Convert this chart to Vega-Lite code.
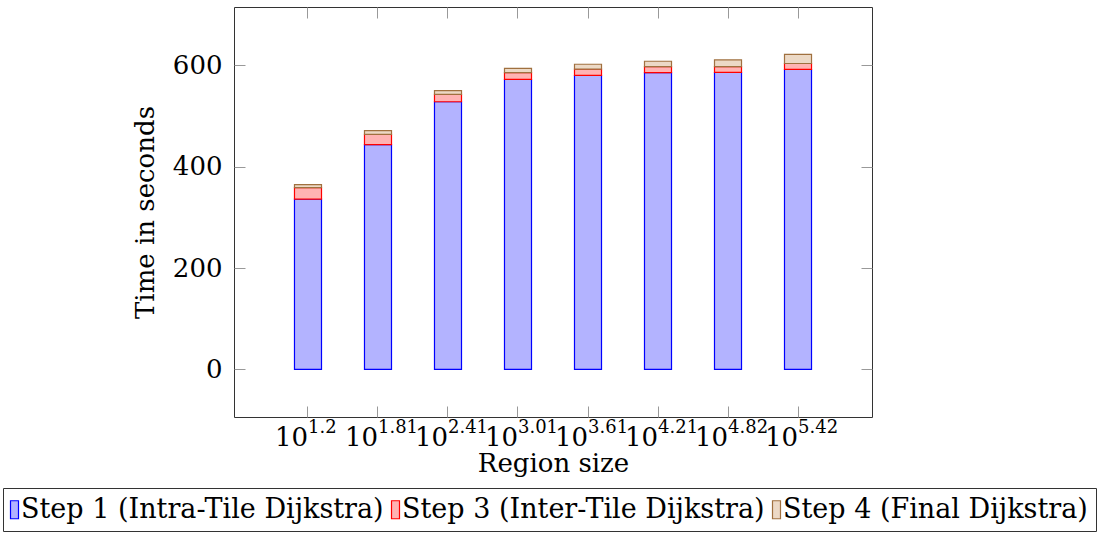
{
  "$schema": "https://vega.github.io/schema/vega-lite/v6.json",
  "width": 638,
  "height": 410,
  "autosize": {"type": "none"},
  "padding": {"left": 234, "top": 7, "right": 225, "bottom": 127},
  "background": "white",
  "config": {
    "view": {"stroke": "#333", "strokeWidth": 1},
    "font": "DejaVu Serif",
    "axis": {"labelFont": "DejaVu Serif", "titleFont": "DejaVu Serif", "labelColor": "black", "titleColor": "black", "titleFontWeight": "normal", "grid": false}
  },
  "data": {
    "values": [
      {"exp": "1.2", "step": "Step 1 (Intra-Tile Dijkstra)", "value": 336},
      {"exp": "1.2", "step": "Step 3 (Inter-Tile Dijkstra)", "value": 22.5},
      {"exp": "1.2", "step": "Step 4 (Final Dijkstra)", "value": 6},
      {"exp": "1.81", "step": "Step 1 (Intra-Tile Dijkstra)", "value": 443.5},
      {"exp": "1.81", "step": "Step 3 (Inter-Tile Dijkstra)", "value": 20.3},
      {"exp": "1.81", "step": "Step 4 (Final Dijkstra)", "value": 7.3},
      {"exp": "2.41", "step": "Step 1 (Intra-Tile Dijkstra)", "value": 528},
      {"exp": "2.41", "step": "Step 3 (Inter-Tile Dijkstra)", "value": 14.5},
      {"exp": "2.41", "step": "Step 4 (Final Dijkstra)", "value": 7.5},
      {"exp": "3.01", "step": "Step 1 (Intra-Tile Dijkstra)", "value": 572},
      {"exp": "3.01", "step": "Step 3 (Inter-Tile Dijkstra)", "value": 13.5},
      {"exp": "3.01", "step": "Step 4 (Final Dijkstra)", "value": 8.5},
      {"exp": "3.61", "step": "Step 1 (Intra-Tile Dijkstra)", "value": 580},
      {"exp": "3.61", "step": "Step 3 (Inter-Tile Dijkstra)", "value": 12.5},
      {"exp": "3.61", "step": "Step 4 (Final Dijkstra)", "value": 9.5},
      {"exp": "4.21", "step": "Step 1 (Intra-Tile Dijkstra)", "value": 585.5},
      {"exp": "4.21", "step": "Step 3 (Inter-Tile Dijkstra)", "value": 12},
      {"exp": "4.21", "step": "Step 4 (Final Dijkstra)", "value": 10.5},
      {"exp": "4.82", "step": "Step 1 (Intra-Tile Dijkstra)", "value": 586},
      {"exp": "4.82", "step": "Step 3 (Inter-Tile Dijkstra)", "value": 11.5},
      {"exp": "4.82", "step": "Step 4 (Final Dijkstra)", "value": 13},
      {"exp": "5.42", "step": "Step 1 (Intra-Tile Dijkstra)", "value": 592},
      {"exp": "5.42", "step": "Step 3 (Inter-Tile Dijkstra)", "value": 11.5},
      {"exp": "5.42", "step": "Step 4 (Final Dijkstra)", "value": 18}
    ]
  },
  "resolve": {"axis": {"x": "independent", "y": "independent"}},
  "layer": [
    {
      "mark": {"type": "bar", "strokeWidth": 1.2},
      "encoding": {
        "x": {
          "field": "exp", "type": "ordinal", "sort": null,
          "scale": {"type": "band", "paddingInner": 0.614, "paddingOuter": 0.864},
          "axis": {
            "orient": "bottom", "labelExpr": "'10'", "labelAlign": "right", "labelDx": -1,
            "labelBaseline": "alphabetic", "labelPadding": 28, "labelFontSize": 26, "labelAngle": 0,
            "ticks": false, "domain": false, "labelOverlap": false, "labelFlush": false,
            "title": "Region size", "titleFontSize": 26, "titlePadding": 0
          }
        },
        "y": {
          "aggregate": "sum", "field": "value", "type": "quantitative", "stack": "zero",
          "scale": {"domain": [-94, 715], "nice": false, "zero": false},
          "axis": {
            "orient": "left", "values": [0, 200, 400, 600], "ticks": false, "domain": false,
            "labelFontSize": 26, "labelPadding": 12, "title": "Time in seconds",
            "titleFontSize": 26, "titlePadding": 14
          }
        },
        "order": {"field": "step", "type": "nominal", "sort": "ascending"},
        "fill": {
          "field": "step", "type": "nominal",
          "scale": {"domain": ["Step 1 (Intra-Tile Dijkstra)", "Step 3 (Inter-Tile Dijkstra)", "Step 4 (Final Dijkstra)"], "range": ["#b3b3ff", "#ffb3b3", "#ecd9c6"]},
          "legend": {
            "title": null, "orient": "none", "legendX": -231, "legendY": 481, "direction": "horizontal",
            "padding": 8, "strokeColor": "#333", "fillColor": "white",
            "labelFont": "DejaVu Serif", "labelFontSize": 27, "labelColor": "black", "labelOffset": -17, "labelLimit": 1000,
            "symbolType": "M-2.8,-1.8H-1.2V1.8H-2.8Z", "symbolSize": 100, "symbolStrokeWidth": 1.2, "columnPadding": 5
          }
        },
        "stroke": {
          "field": "step", "type": "nominal",
          "scale": {"domain": ["Step 1 (Intra-Tile Dijkstra)", "Step 3 (Inter-Tile Dijkstra)", "Step 4 (Final Dijkstra)"], "range": ["#0000ff", "#ff0000", "#a0703f"]},
          "legend": {
            "title": null, "orient": "none", "legendX": -231, "legendY": 481, "direction": "horizontal",
            "padding": 8, "strokeColor": "#333", "fillColor": "white",
            "labelFont": "DejaVu Serif", "labelFontSize": 27, "labelColor": "black", "labelOffset": -17, "labelLimit": 1000,
            "symbolType": "M-2.8,-1.8H-1.2V1.8H-2.8Z", "symbolSize": 100, "symbolStrokeWidth": 1.2, "columnPadding": 5
          }
        }
      }
    },
    {
      "mark": {"type": "point", "opacity": 0},
      "encoding": {
        "x": {
          "field": "exp", "type": "ordinal", "sort": null,
          "axis": {
            "orient": "bottom", "labelExpr": "datum.value", "labelAlign": "left", "labelDx": 1,
            "labelBaseline": "alphabetic", "labelPadding": 15, "labelFontSize": 18, "labelAngle": 0,
            "ticks": false, "domain": false, "labelOverlap": false, "labelFlush": false, "title": null
          }
        },
        "y": {
          "field": "value", "type": "quantitative",
          "axis": {"orient": "right", "values": [0, 200, 400, 600], "labels": false, "ticks": true, "tickSize": -11, "tickColor": "#999", "domain": false, "title": null}
        }
      }
    },
    {
      "mark": {"type": "point", "opacity": 0},
      "encoding": {
        "x": {
          "field": "exp", "type": "ordinal", "sort": null,
          "axis": {"orient": "top", "labels": false, "ticks": true, "tickSize": -11, "tickColor": "#999", "domain": false, "title": null}
        },
        "y": {
          "field": "value", "type": "quantitative",
          "axis": {"orient": "left", "values": [0, 200, 400, 600], "labels": false, "ticks": true, "tickSize": -11, "tickColor": "#999", "domain": false, "title": null}
        }
      }
    },
    {
      "mark": {"type": "point", "opacity": 0},
      "encoding": {
        "x": {
          "field": "exp", "type": "ordinal", "sort": null,
          "axis": {"orient": "bottom", "labels": false, "ticks": true, "tickSize": -11, "tickColor": "#999", "domain": false, "title": null}
        },
        "y": {"field": "value", "type": "quantitative", "axis": null}
      }
    }
  ]
}
